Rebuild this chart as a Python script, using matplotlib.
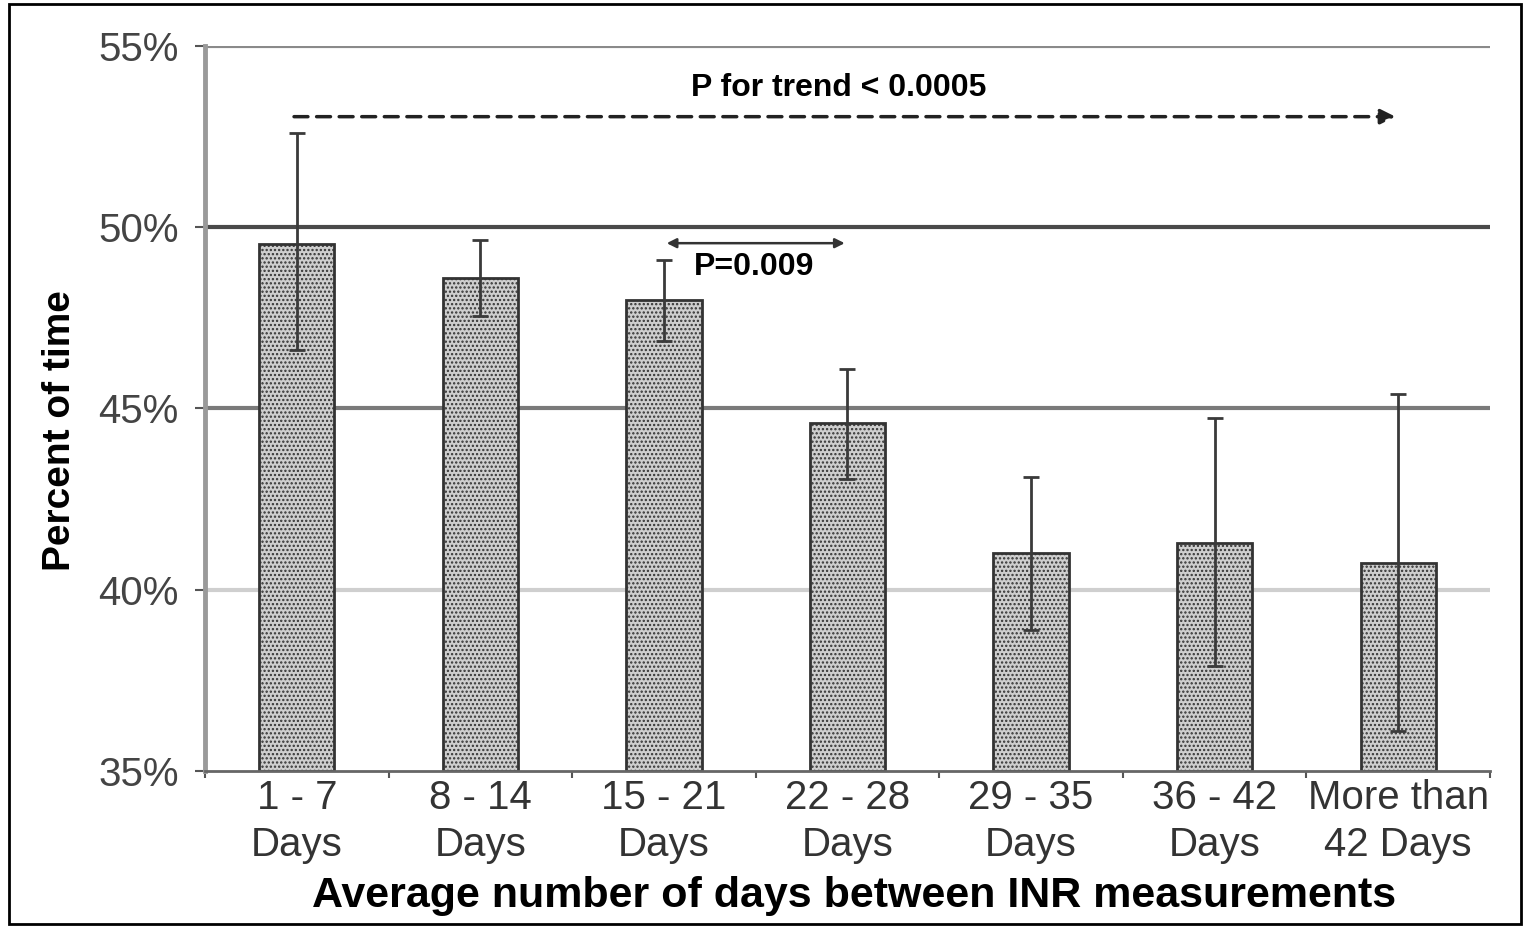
import numpy as np
import matplotlib.pyplot as plt
from matplotlib.patches import Rectangle

plt.rcParams['font.family'] = ['Liberation Sans', 'DejaVu Sans']
plt.rcParams['hatch.color'] = '#666666'
plt.rcParams['hatch.linewidth'] = 1.1

categories = ['1 - 7\nDays', '8 - 14\nDays', '15 - 21\nDays', '22 - 28\nDays',
              '29 - 35\nDays', '36 - 42\nDays', 'More than\n42 Days']
means = [49.55, 48.6, 48.0, 44.6, 41.0, 41.3, 40.75]
err_low = [46.6, 47.55, 46.85, 43.05, 38.9, 37.9, 36.1]
err_high = [52.6, 49.65, 49.1, 46.1, 43.1, 44.75, 45.4]
yticks = [35, 40, 45, 50, 55]
grid_colors = {40: '#cfcfcf', 45: '#7a7a7a', 50: '#4a4a4a', 55: '#8a8a8a'}

fig = plt.figure(figsize=(15.24, 9.27), dpi=100)
ax = fig.add_axes([0.1345, 0.1683, 0.8432, 0.7821])

x = np.arange(len(categories))
m = np.array(means)
yerr = [m - np.array(err_low), np.array(err_high) - m]

for y, c in grid_colors.items():
    ax.axhline(y, color=c, lw=3, zorder=0)

ax.bar(x, m - 35, bottom=35, width=0.41, color='#cecece', edgecolor='#333333',
       linewidth=2, hatch='....', zorder=2)
ax.errorbar(x, m, yerr=yerr, fmt='none', ecolor='#3a3a3a', elinewidth=2,
            capsize=6, capthick=2, zorder=3)

ax.set_xlim(-0.5, 6.5)
ax.set_ylim(35, 55)
ax.set_yticks(yticks)
ax.set_yticklabels([f'{v}%' for v in yticks])
ax.set_xticks(x)
ax.set_xticklabels(categories, linespacing=1.3)
ax.set_xticks(np.arange(-0.5, 7, 1), minor=True)
ax.tick_params(axis='x', which='major', length=0, pad=6, labelsize=29, labelcolor='#333333')
ax.tick_params(axis='x', which='minor', length=5, width=1.5, color='#555555')
ax.tick_params(axis='y', length=7, width=1.5, color='#555555', pad=12,
               labelsize=29, labelcolor='#444444')

for s in ['top', 'right']:
    ax.spines[s].set_visible(False)
ax.spines['left'].set_color('#9a9a9a')
ax.spines['left'].set_linewidth(3.5)
ax.spines['bottom'].set_color('#666666')
ax.spines['bottom'].set_linewidth(2)

ax.set_ylabel('Percent of time', fontsize=28, fontweight='bold')
ax.yaxis.set_label_coords(-0.099, 0.47)
ax.set_xlabel('Average number of days between INR measurements', fontsize=31,
              fontweight='bold')
ax.xaxis.set_label_coords(0.505, -0.145)

# trend arrow
ax.annotate('', xy=(6.0, 53.05), xytext=(-0.03, 53.05),
            arrowprops=dict(arrowstyle='-|>', linestyle=(0, (4, 2.5)), lw=2.5,
                            color='#222222', mutation_scale=22))
ax.text(2.95, 53.85, 'P for trend < 0.0005', ha='center', va='center',
        fontsize=23, fontweight='bold')

# pairwise arrow
ax.annotate('', xy=(3.0, 49.56), xytext=(2.0, 49.56),
            arrowprops=dict(arrowstyle='<|-|>', lw=1.8, color='#333333',
                            mutation_scale=14))
ax.text(2.49, 48.9, 'P=0.009', ha='center', va='center', fontsize=23,
        fontweight='bold')

fig.patches.append(Rectangle((0.006, 0.003), 0.992, 0.993, transform=fig.transFigure,
                             fill=False, edgecolor='black', linewidth=2))

fig.savefig('out.png', dpi=100)
